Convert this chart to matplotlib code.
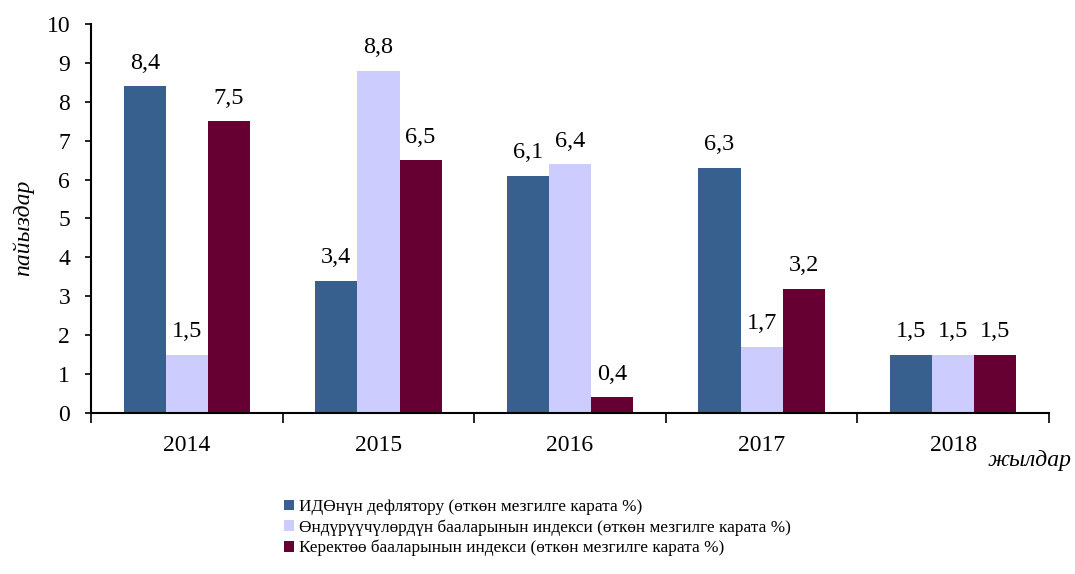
import matplotlib
matplotlib.use("Agg")
import matplotlib.pyplot as plt
import numpy as np

plt.rcParams['font.family'] = ['Liberation Serif', 'DejaVu Serif']

years = ['2014', '2015', '2016', '2017', '2018']
gdp_deflator = [8.4, 3.4, 6.1, 6.3, 1.5]
producer_index = [1.5, 8.8, 6.4, 1.7, 1.5]
consumer_index = [7.5, 6.5, 0.4, 3.2, 1.5]

series_names = [
    'ИДӨнүн дефлятору (өткөн мезгилге карата %)',
    'Өндүрүүчүлөрдүн бааларынын индекси (өткөн мезгилге карата %)',
    'Керектөө бааларынын индекси (өткөн мезгилге карата %)',
]
colors = ['#38608F', '#CCCCFF', '#660033']

fig = plt.figure(figsize=(10.75, 5.74), dpi=100)
ax = fig.add_axes([0.0847, 0.2805, 0.8911, 0.6777])

x = np.arange(len(years))
w = 0.22
handles = []
for i, (vals, name, c) in enumerate(zip([gdp_deflator, producer_index, consumer_index], series_names, colors)):
    pos = x + (i - 1) * w
    b = ax.bar(pos, vals, width=w, color=c, label=name)
    handles.append(b)
    for px, v in zip(pos, vals):
        ax.annotate(f"{v:.1f}".replace('.', ','), (px, v), xytext=(0, 9),
                    textcoords='offset points', ha='center', va='bottom', fontsize=17.5)

ax.set_xlim(-0.5, len(years) - 0.5)
ax.set_ylim(0, 10)
ax.set_yticks(range(0, 11))
ax.tick_params(axis='y', labelsize=17, direction='out', length=4, width=1.2, pad=11)
ax.set_xticks(np.arange(-0.5, len(years), 1.0), minor=False)
ax.set_xticklabels([])
ax.set_xticks(x, minor=True)
ax.set_xticklabels(years, minor=True)
ax.tick_params(axis='x', which='major', direction='out', length=7, width=1.2)
ax.tick_params(axis='x', which='minor', length=0, labelsize=17, pad=16)

for s in ['top', 'right']:
    ax.spines[s].set_visible(False)
for s in ['left', 'bottom']:
    ax.spines[s].set_linewidth(1.5)

ax.set_ylabel('пайыздар', fontsize=17, style='italic')
ax.yaxis.set_label_coords(-0.059, 0.476)
fig.text(0.958, 0.198, 'жылдар', fontsize=17, style='italic', ha='center', va='center')

fig.legend(handles=handles, labels=series_names, loc='upper left',
           bbox_to_anchor=(0.258, 0.143), frameon=False, fontsize=12.4,
           handlelength=0.55, handleheight=0.55, handletextpad=0.3,
           labelspacing=0.25, borderaxespad=0)

fig.savefig('out.png', dpi=100)
